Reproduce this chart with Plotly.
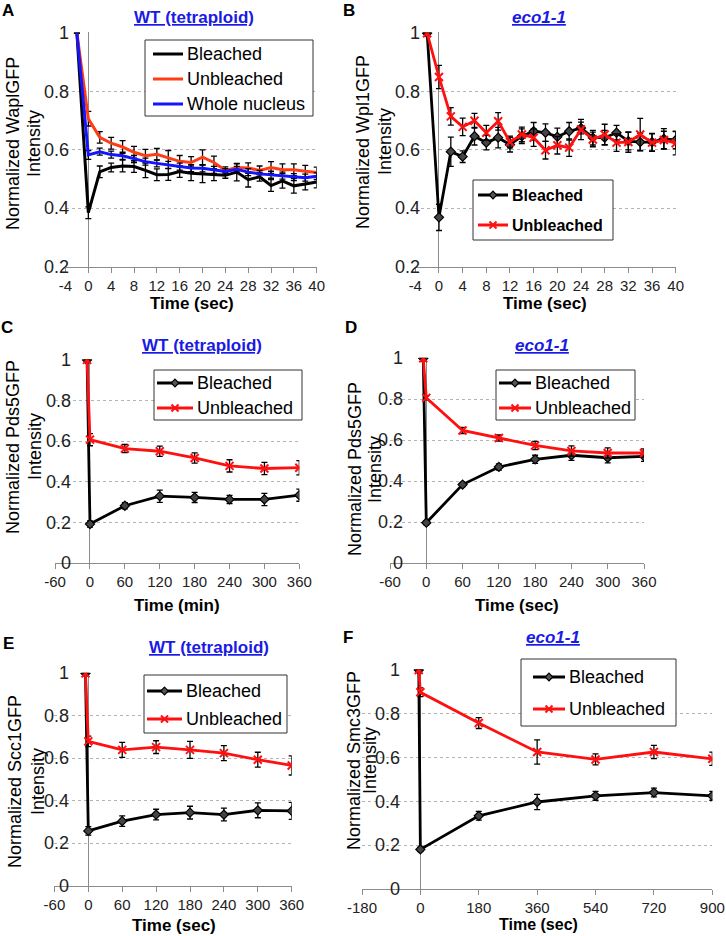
import plotly.graph_objects as go

# ---------------------------------------------------------------------------
# data (normalized GFP intensity after photobleaching)
# ---------------------------------------------------------------------------

# A: WaplGFP, WT (tetraploid), time in sec
a_time = [-2, 0, 2, 4, 6, 8, 10, 12, 14, 16, 18, 20, 22, 24, 26, 28, 30, 32, 34, 36, 38, 40]
a_bleached = [1, 0.385, 0.525, 0.54, 0.545, 0.543, 0.53, 0.515, 0.516, 0.526, 0.52, 0.518,
              0.515, 0.513, 0.524, 0.498, 0.508, 0.478, 0.494, 0.477, 0.483, 0.49]
a_bleached_err = [0, 0.02, 0.02, 0.015, 0.02, 0.02, 0.025, 0.02, 0.02, 0.02, 0.025, 0.03,
                  0.02, 0.01, 0.03, 0.025, 0.015, 0.02, 0.025, 0.025, 0.02, 0.02]
a_unbleached = [1, 0.707, 0.643, 0.623, 0.61, 0.592, 0.58, 0.585, 0.573, 0.561, 0.557, 0.575,
                0.557, 0.53, 0.54, 0.538, 0.53, 0.54, 0.532, 0.532, 0.527, 0.523]
a_unbleached_err = [0, 0.025, 0.02, 0.02, 0.022, 0.02, 0.022, 0.02, 0.025, 0.02, 0.02, 0.025,
                    0.022, 0.012, 0.012, 0.018, 0.015, 0.02, 0.02, 0.02, 0.02, 0.018]
a_whole = [1, 0.583, 0.594, 0.584, 0.58, 0.569, 0.56, 0.554, 0.549, 0.543, 0.538, 0.537,
           0.532, 0.526, 0.534, 0.524, 0.518, 0.515, 0.512, 0.507, 0.505, 0.51]
a_whole_err = [0, 0.015, 0.012, 0.012, 0.012, 0.012, 0.012, 0.012, 0.012, 0.012, 0.012, 0.012,
               0.012, 0.01, 0.01, 0.012, 0.012, 0.012, 0.012, 0.012, 0.012, 0.012]

# B: Wpl1GFP, eco1-1, time in sec
b_time = a_time
b_bleached = [1, 0.369, 0.594, 0.577, 0.647, 0.625, 0.642, 0.618, 0.647, 0.664, 0.659, 0.645,
              0.664, 0.675, 0.642, 0.642, 0.659, 0.63, 0.627, 0.627, 0.638, 0.634]
b_bleached_err = [0, 0.045, 0.05, 0.02, 0.03, 0.025, 0.035, 0.025, 0.025, 0.03, 0.03, 0.03,
                  0.03, 0.02, 0.025, 0.025, 0.025, 0.03, 0.03, 0.03, 0.035, 0.03]
b_unbleached = [1, 0.85, 0.715, 0.679, 0.70, 0.659, 0.698, 0.627, 0.653, 0.642, 0.599, 0.616,
                0.608, 0.67, 0.636, 0.653, 0.625, 0.627, 0.653, 0.625, 0.634, 0.623]
b_unbleached_err = [0, 0.04, 0.03, 0.03, 0.025, 0.025, 0.03, 0.02, 0.025, 0.03, 0.03, 0.03,
                    0.03, 0.035, 0.025, 0.035, 0.03, 0.035, 0.055, 0.03, 0.03, 0.04]

# C: Pds5GFP, WT (tetraploid), time in min
c_time = [-5, 0, 60, 120, 180, 240, 300, 360]
c_bleached = [1, 0.193, 0.283, 0.33, 0.324, 0.314, 0.314, 0.335]
c_bleached_err = [0, 0.015, 0.015, 0.03, 0.025, 0.02, 0.03, 0.03]
c_unbleached = [1, 0.608, 0.564, 0.551, 0.518, 0.479, 0.466, 0.47]
c_unbleached_err = [0, 0.03, 0.02, 0.025, 0.025, 0.03, 0.03, 0.035]

# D: Pds5GFP, eco1-1, time in sec
d_time = [-5, 0, 60, 120, 180, 240, 300, 360]
d_bleached = [1, 0.198, 0.384, 0.47, 0.507, 0.527, 0.515, 0.522]
d_bleached_err = [0, 0.01, 0.01, 0.015, 0.02, 0.025, 0.025, 0.025]
d_unbleached = [1, 0.807, 0.648, 0.611, 0.575, 0.548, 0.538, 0.538]
d_unbleached_err = [0, 0.01, 0.015, 0.015, 0.02, 0.025, 0.025, 0.02]

# E: Scc1GFP, WT (tetraploid), time in sec
e_time = [-5, 0, 60, 120, 180, 240, 300, 360]
e_bleached = [1, 0.259, 0.305, 0.336, 0.345, 0.336, 0.356, 0.353]
e_bleached_err = [0, 0.02, 0.025, 0.025, 0.03, 0.03, 0.035, 0.04]
e_unbleached = [1, 0.68, 0.64, 0.653, 0.64, 0.625, 0.594, 0.567]
e_unbleached_err = [0, 0.025, 0.035, 0.03, 0.04, 0.035, 0.035, 0.045]

# F: Smc3GFP, eco1-1, time in sec
f_time = [-5, 0, 180, 360, 540, 720, 900]
f_bleached = [1, 0.182, 0.335, 0.398, 0.426, 0.441, 0.426]
f_bleached_err = [0, 0.01, 0.02, 0.035, 0.02, 0.02, 0.02]
f_unbleached = [1, 0.898, 0.758, 0.626, 0.592, 0.626, 0.595]
f_unbleached_err = [0, 0.02, 0.025, 0.055, 0.025, 0.03, 0.03]

# axis ticks
ticks_40 = [-4, 0, 4, 8, 12, 16, 20, 24, 28, 32, 36, 40]
ticks_360 = [-60, 0, 60, 120, 180, 240, 300, 360]
ticks_900 = [-180, 0, 180, 360, 540, 720, 900]
yticks_02 = [0.2, 0.4, 0.6, 0.8, 1]
yticks_0 = [0, 0.2, 0.4, 0.6, 0.8, 1]

# ---------------------------------------------------------------------------
W, H = 726, 936
FONT = "Liberation Sans, Arial, sans-serif"
GRAY = "#8c8c8c"
RED = "#ff1010"
ORANGE = "#ff3c14"
BLUE_LINE = "#1414ff"


def px(x):
    return x / W


def py(y):
    return 1 - y / H


fig = go.Figure()
shapes = []
notes = []


def err(vals):
    return dict(type="data", array=vals, visible=True, color="black", thickness=1.3, width=3)


def add_panel(i, box, xr, xt, yr, yt, label_right):
    # box = (left, right, top, bottom) in pixels
    xn = "xaxis" if i == 1 else "xaxis%d" % i
    yn = "yaxis" if i == 1 else "yaxis%d" % i
    yref = "y" if i == 1 else "y%d" % i
    fig.layout[xn] = dict(domain=[px(box[0]), px(box[1])], range=xr, anchor=yref,
                          tickmode="array", tickvals=xt, ticktext=[str(v) for v in xt],
                          showgrid=False, zeroline=True, zerolinecolor=GRAY, zerolinewidth=1,
                          showline=True, linecolor=GRAY, linewidth=1, ticks="outside", ticklen=5,
                          tickcolor=GRAY, tickfont=dict(size=15, color="#222"), automargin=False)
    fig.layout[yn] = dict(domain=[py(box[3]), py(box[2])], range=yr, anchor="x" if i == 1 else "x%d" % i,
                          tickmode="array", tickvals=yt, showticklabels=False,
                          showgrid=True, gridcolor="#b4b4b4", griddash="dot", gridwidth=1,
                          zeroline=False, showline=False, ticks="", automargin=False)
    # Excel puts the value labels just left of the vertical axis (which crosses at x=0)
    for v in yt:
        notes.append(dict(text="%g" % v, x=px(label_right), y=v, xref="paper", yref=yref,
                          xanchor="right", yanchor="middle", showarrow=False,
                          font=dict(size=18, color="#222", family=FONT)))


def bleach_pair(i, t, bl, bl_e, ub, ub_e):
    xa = "x" if i == 1 else "x%d" % i
    ya = "y" if i == 1 else "y%d" % i
    fig.add_trace(go.Scatter(x=t, y=bl, error_y=err(bl_e), name="Bleached", mode="lines+markers",
                             line=dict(color="black", width=2.8),
                             marker=dict(symbol="diamond", size=7, color="#444", line=dict(color="black", width=1.2)),
                             xaxis=xa, yaxis=ya, showlegend=False))
    fig.add_trace(go.Scatter(x=t, y=ub, error_y=err(ub_e), name="Unbleached", mode="lines+markers",
                             line=dict(color=RED, width=2.8),
                             marker=dict(symbol="x-thin-open", size=8, color=RED, line=dict(color=RED, width=2)),
                             xaxis=xa, yaxis=ya, showlegend=False))


# panel A
add_panel(1, (65.5, 316.7, 32.3, 266.7), [-4, 40], ticks_40, [0.2, 1.003], yticks_02, 71)
fig.add_trace(go.Scatter(x=a_time, y=a_bleached, error_y=err(a_bleached_err), name="Bleached",
                         mode="lines", line=dict(color="black", width=3), showlegend=False))
fig.add_trace(go.Scatter(x=a_time, y=a_unbleached, error_y=err(a_unbleached_err), name="Unbleached",
                         mode="lines", line=dict(color=ORANGE, width=3), showlegend=False))
fig.add_trace(go.Scatter(x=a_time, y=a_whole, error_y=err(a_whole_err), name="Whole nucleus",
                         mode="lines", line=dict(color=BLUE_LINE, width=3), showlegend=False))

# panel B
add_panel(2, (415.3, 675.7, 32.3, 266.7), [-4, 40], ticks_40, [0.2, 1.003], yticks_02, 422)
bleach_pair(2, b_time, b_bleached, b_bleached_err, b_unbleached, b_unbleached_err)

# panel C
add_panel(3, (55.1, 299.3, 359.3, 563.3), [-60, 360], ticks_360, [0, 1.003], yticks_0, 73)
bleach_pair(3, c_time, c_bleached, c_bleached_err, c_unbleached, c_unbleached_err)

# panel D
add_panel(4, (390, 644, 357.7, 563.3), [-60, 360], ticks_360, [0, 1.003], yticks_0, 405)
bleach_pair(4, d_time, d_bleached, d_bleached_err, d_unbleached, d_unbleached_err)

# panel E
add_panel(5, (54.4, 291.7, 672.7, 886), [-60, 360], ticks_360, [0, 1.003], yticks_0, 71)
bleach_pair(5, e_time, e_bleached, e_bleached_err, e_unbleached, e_unbleached_err)

# panel F
add_panel(6, (362, 712.3, 669.3, 889.3), [-180, 900], ticks_900, [0, 1.003], yticks_0, 402)
bleach_pair(6, f_time, f_bleached, f_bleached_err, f_unbleached, f_unbleached_err)

# ---------------------------------------------------------------------------
# Excel-style boxed legends, drawn by hand so the boxes stay tight


def seg(x0, y0, x1, y1, color, width):
    shapes.append(dict(type="line", xref="paper", yref="paper", x0=px(x0), y0=py(y0), x1=px(x1), y1=py(y1),
                       line=dict(color=color, width=width), layer="above"))


def legend_box(x0, y0, x1, y1):
    shapes.append(dict(type="rect", xref="paper", yref="paper", x0=px(x0), y0=py(y0), x1=px(x1), y1=py(y1),
                       line=dict(color="#333", width=1), fillcolor="white", layer="above"))


def legend_entry(x0, x1, y, label, color, marker=None, size=18, bold=False):
    seg(x0, y, x1, y, color, 3)
    xm = (x0 + x1) / 2
    if marker == "diamond":
        r = 3.8
        path = "M %f %f L %f %f L %f %f L %f %f Z" % (px(xm), py(y - r), px(xm + r), py(y),
                                                      px(xm), py(y + r), px(xm - r), py(y))
        shapes.append(dict(type="path", xref="paper", yref="paper", path=path, fillcolor="#555",
                           line=dict(color="black", width=1.2), layer="above"))
    elif marker == "x":
        r = 3.5
        seg(xm - r, y - r, xm + r, y + r, color, 2)
        seg(xm - r, y + r, xm + r, y - r, color, 2)
    text = "<b>%s</b>" % label if bold else label
    notes.append(dict(text=text, x=px(x1 + 2), y=py(y), xref="paper", yref="paper", showarrow=False,
                      xanchor="left", yanchor="middle", font=dict(size=size, color="black", family=FONT)))


legend_box(145, 40, 313, 116)
legend_entry(153, 183, 54, "Bleached", "black")
legend_entry(153, 183, 79, "Unbleached", ORANGE)
legend_entry(153, 183, 104, "Whole nucleus", BLUE_LINE)

legend_box(473, 180, 613, 240)
legend_entry(478, 508, 195, "Bleached", "black", "diamond", size=16, bold=True)
legend_entry(478, 508, 225, "Unbleached", RED, "x", size=16, bold=True)

legend_box(154, 370, 302, 420)
legend_entry(157, 193, 383, "Bleached", "black", "diamond")
legend_entry(157, 193, 408, "Unbleached", RED, "x")

legend_box(496, 370, 635, 420)
legend_entry(499, 531, 383, "Bleached", "black", "diamond")
legend_entry(499, 531, 408, "Unbleached", RED, "x")

legend_box(144, 675, 287, 733)
legend_entry(147, 182, 691, "Bleached", "black", "diamond")
legend_entry(147, 182, 719, "Unbleached", RED, "x")

legend_box(521, 659, 676, 726)
legend_entry(533, 565, 677, "Bleached", "black", "diamond")
legend_entry(533, 565, 709, "Unbleached", RED, "x")

# ---------------------------------------------------------------------------
# text: panel letters, titles, axis titles


def note(text, x, y, size=17, bold=True, color="black", angle=0):
    if bold:
        text = "<b>" + text + "</b>"
    notes.append(dict(text=text, x=px(x), y=py(y), xref="paper", yref="paper", showarrow=False,
                      xanchor="center", yanchor="middle", textangle=angle,
                      font=dict(size=size, color=color, family=FONT)))


for letter, x, y in [("A", 8, 11), ("B", 349, 11), ("C", 7, 327), ("D", 351, 327), ("E", 8, 643), ("F", 348, 637)]:
    note(letter, x, y)

BLUE = "#1a1ae6"
note("<u>WT (tetraploid)</u>", 194, 17, color=BLUE)
note("<u><i>eco1-1</i></u>", 539, 17, color=BLUE)
note("<u>WT (tetraploid)</u>", 202, 345, color=BLUE)
note("<u><i>eco1-1</i></u>", 542, 345, color=BLUE)
note("<u>WT (tetraploid)</u>", 209, 647, color=BLUE)
note("<u><i>eco1-1</i></u>", 553, 637, color=BLUE)

note("Time (sec)", 192, 304)
note("Time (sec)", 545, 304)
note("Time (min)", 177, 605)
note("Time (sec)", 517, 605)
note("Time (sec)", 174, 925)
note("Time (sec)", 538, 924, size=16)

for line1, x1, x2, yc in [("Normalized WaplGFP", 13, 34, 144), ("Normalized Wpl1GFP", 363, 385, 142),
                          ("Normalized Pds5GFP", 13, 35, 447), ("Normalized Pds5GFP", 355, 375, 469),
                          ("Normalized Scc1GFP", 15, 38, 782), ("Normalized Smc3GFP", 354, 370, 761)]:
    note(line1, x1, yc, size=18, bold=False, angle=-90)
    note("Intensity", x2, yc, size=18, bold=False, angle=-90)

fig.update_layout(
    width=W, height=H, margin=dict(l=0, r=0, t=0, b=0, autoexpand=False),
    paper_bgcolor="white", plot_bgcolor="white",
    font=dict(family=FONT, color="black"),
    showlegend=False,
    shapes=shapes,
    annotations=notes,
)

# the page body has a default 8px margin; drop it so the figure fills the window
fig.write_html("out.html", config={"displayModeBar": False},
               post_script="document.body.style.margin='0px';document.body.style.overflow='hidden';")
